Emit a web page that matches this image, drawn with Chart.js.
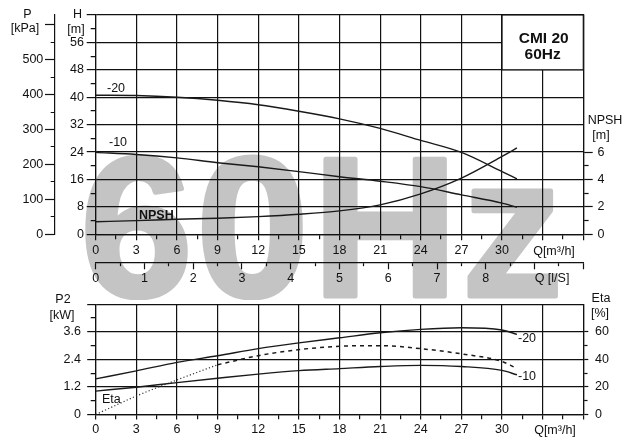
<!DOCTYPE html>
<html><head><meta charset="utf-8">
<script src="https://cdn.jsdelivr.net/npm/chart.js@4"></script>
<style>
html,body{margin:0;padding:0;background:#fff;}
#wrap{position:relative;width:642px;height:446px;overflow:hidden;background:#fff;}
#c1{position:absolute;left:0;top:0;}
#c2{position:absolute;left:0;top:285px;}
</style></head><body>
<div id="wrap"><canvas id="c1" width="642" height="300"></canvas><canvas id="c2" width="642" height="161"></canvas></div>
<script>
// ---- data ----
const qHead   = [0, 3, 6, 9, 12, 15, 18, 21, 24, 27, 30, 31.1];
const head20  = [40.6, 40.5, 40.0, 39.1, 37.8, 35.9, 33.7, 30.9, 27.4, 23.9, 18.3, 16.2];
const head10  = [23.9, 23.3, 22.3, 20.9, 19.7, 18.3, 16.8, 15.5, 13.9, 11.5, 9.1, 7.9];
const npshVal = [0.92, 1.0, 1.1, 1.17, 1.29, 1.46, 1.71, 2.15, 2.95, 4.1, 5.68, 6.3];

const qPower  = [0, 3, 6, 9, 12, 15, 18, 21, 24, 27, 30, 31.1];
const p2_20   = [1.55, 1.90, 2.27, 2.56, 2.87, 3.12, 3.34, 3.56, 3.71, 3.78, 3.68, 3.49];
const p2_10   = [1.02, 1.19, 1.39, 1.58, 1.76, 1.91, 2.00, 2.09, 2.14, 2.09, 1.92, 1.73];
const qEtaLow  = [0, 3, 6, 9];
const etaLow   = [0, 13.4, 25.1, 36.1];
const qEtaHigh = [9, 12, 15, 18, 21, 24, 27, 30, 30.9];
const etaHigh  = [36.1, 42.7, 47.1, 49.5, 50.0, 47.8, 44.0, 38.5, 34.4];

const qLabelMax = 30, lsLabelMax = 8;
const hLabelMax = 56, pLabelMax = 500, npshLabelMax = 6;
const p2LabelMax = 3.6, etaLabelMax = 60;

// ---- helpers ----
const INK = '#111';
const FONT = '"Liberation Sans", Arial, sans-serif';
Chart.defaults.font.family = FONT;
Chart.defaults.font.size = 12.5;
Chart.defaults.color = INK;
const near = (v, s) => Math.abs(v / s - Math.round(v / s)) < 1e-6;
const pts = (xs, ys) => xs.map((x, i) => ({x, y: ys[i]}));
const tv = c => (c.tick ? c.tick.value : 0);

function drawText(ctx, t, x, y, opt) {
  ctx.save();
  ctx.font = (opt && opt.font) || ('12.5px ' + FONT);
  ctx.fillStyle = INK;
  ctx.textAlign = (opt && opt.align) || 'center';
  ctx.textBaseline = 'middle';
  ctx.fillText(t, x, y);
  ctx.restore();
}

const lineDs = (data, yAxisID, extra) => Object.assign({
  data, xAxisID: 'x', yAxisID, borderColor: '#1a1a1a', borderWidth: 1.4,
  pointRadius: 0, cubicInterpolationMode: 'monotone', fill: false
}, extra || {});

// ---- top chart ----
const topPlugin = {
  id: 'topDecor',
  beforeDraw(chart) {
    const ctx = chart.ctx;
    ctx.save();
    ctx.fillStyle = '#c4c4c4';
    ctx.strokeStyle = '#c4c4c4';
    ctx.lineWidth = 5;
    ctx.lineJoin = 'round';
    ctx.font = 'bold 198px ' + FONT;
    ctx.textBaseline = 'alphabetic';
    ctx.textAlign = 'left';
    ctx.letterSpacing = '4px';
    const m = ctx.measureText('60Hz');
    const ink = m.actualBoundingBoxLeft + m.actualBoundingBoxRight;
    const sx = 468 / ink;
    ctx.translate(87.5, 295.5);
    ctx.scale(sx, 1);
    ctx.fillText('60Hz', m.actualBoundingBoxLeft, 0);
    ctx.strokeText('60Hz', m.actualBoundingBoxLeft, 0);
    ctx.restore();
  },
  beforeDatasetsDraw(chart) {
    const ctx = chart.ctx, sx = chart.scales.x, sy = chart.scales.yH;
    const x0 = sx.getPixelForValue(30), x1 = sx.getPixelForValue(36);
    const y0 = sy.getPixelForValue(64), y1 = sy.getPixelForValue(48);
    ctx.save();
    ctx.fillStyle = '#fff';
    ctx.fillRect(x0, y0, x1 - x0, y1 - y0);
    ctx.strokeStyle = INK; ctx.lineWidth = 1.2;
    ctx.strokeRect(x0, y0, x1 - x0, y1 - y0);
    ctx.restore();
    const cx = (x0 + x1) / 2;
    drawText(ctx, 'CMI 20', cx + 1, 38.5, {font: 'bold 15.5px ' + FONT});
    drawText(ctx, '60Hz', cx, 55, {font: 'bold 15.5px ' + FONT});
  },
  afterDraw(chart) {
    const ctx = chart.ctx;
    drawText(ctx, 'P', 27.5, 15);
    drawText(ctx, '[kPa]', 25, 29);
    drawText(ctx, 'H', 77.5, 15);
    drawText(ctx, '[m]', 76, 30);
    drawText(ctx, '-20', 107, 89, {align: 'left'});
    drawText(ctx, '-10', 109, 143, {align: 'left'});
    drawText(ctx, 'NPSH', 139, 216, {align: 'left', font: 'bold 12.5px ' + FONT});
    drawText(ctx, 'NPSH', 605, 120.5);
    drawText(ctx, '[m]', 601, 136);
    drawText(ctx, 'Q[m³/h]', 554, 251.5);
    drawText(ctx, 'Q [l/S]', 552, 279);
  }
};

new Chart(document.getElementById('c1'), {
  type: 'line',
  data: {
    datasets: [
      lineDs(pts(qHead, head20), 'yH'),
      lineDs(pts(qHead, head10), 'yH'),
      lineDs(pts(qHead, npshVal), 'yN')
    ]
  },
  options: {
    responsive: false, animation: false, devicePixelRatio: 1,
    layout: {padding: {top: 15, bottom: 7.7, left: 0, right: 0}},
    plugins: {legend: {display: false}, tooltip: {enabled: false}},
    scales: {
      x: {
        type: 'linear', position: 'bottom', min: 0, max: 36, weight: 0,
        afterFit: s => { s.height = 28; },
        ticks: {stepSize: 1.5, autoSkip: false, maxRotation: 0, includeBounds: false, padding: 3.2,
          callback: v => (near(v, 3) && v <= qLabelMax + 0.01) ? String(Math.round(v)) : ''},
        grid: {color: c => near(tv(c), 3) ? INK : 'rgba(0,0,0,0)', lineWidth: 1.2, tickColor: INK,
          tickLength: 6, tickWidth: 1.2, tickBorderDash: c => near(tv(c), 3) ? [] : [4, 100]},
        border: {display: true, color: INK, width: 1.2}
      },
      x2: {
        type: 'linear', position: 'bottom', min: 0, max: 10, weight: 1,
        afterFit: s => { s.height = 30; },
        ticks: {stepSize: 0.5, autoSkip: false, maxRotation: 0, includeBounds: false, padding: 1.9,
          callback: v => (near(v, 1) && v <= lsLabelMax + 0.01) ? String(Math.round(v)) : ''},
        grid: {drawOnChartArea: false, tickColor: INK, tickLength: 7, tickWidth: 1.2,
          tickBorderDash: c => near(tv(c), 1) ? [] : [3, 100]},
        border: {display: true, color: INK, width: 1.2}
      },
      yP: {
        type: 'linear', position: 'left', min: 0, max: 628, weight: 1,
        afterFit: s => { s.width = 55; },
        ticks: {stepSize: 50, autoSkip: false, includeBounds: false, padding: 1.7,
          callback: v => (near(v, 100) && v <= pLabelMax) ? String(v) : ''},
        grid: {drawOnChartArea: false, tickColor: INK, tickLength: 10, tickWidth: 1.2,
          tickBorderDash: c => near(tv(c), 100) ? [] : [0, 5.7, 4.3, 100]},
        border: {display: true, color: INK, width: 1.2}
      },
      yH: {
        type: 'linear', position: 'left', min: 0, max: 64, weight: 0,
        afterFit: s => { s.width = 40.7; },
        ticks: {stepSize: 4, autoSkip: false, padding: 2.7,
          callback: v => (near(v, 8) && v <= hLabelMax) ? String(v) : ''},
        grid: {color: c => near(tv(c), 8) ? INK : 'rgba(0,0,0,0)', lineWidth: 1.2, tickColor: INK,
          tickLength: 9, tickWidth: 1.2, tickBorderDash: c => near(tv(c), 8) ? [] : [0, 4, 5, 100]},
        border: {display: true, color: INK, width: 1.2}
      },
      yN: {
        type: 'linear', position: 'right', min: 0, max: 16,
        afterFit: s => { s.width = 58.7; },
        ticks: {stepSize: 1, autoSkip: false, padding: 4.7,
          callback: v => (near(v, 2) && v <= npshLabelMax) ? String(v) : ''},
        grid: {drawOnChartArea: false, tickColor: c => tv(c) <= 6.01 ? INK : 'rgba(0,0,0,0)',
          tickLength: 9.4, tickWidth: 1.2, tickBorderDash: c => near(tv(c), 2) ? [] : [4.4, 100]},
        border: {display: true, color: INK, width: 1.2}
      }
    }
  },
  plugins: [topPlugin]
});

// ---- bottom chart ----
const botPlugin = {
  id: 'botDecor',
  afterDraw(chart) {
    const ctx = chart.ctx;
    drawText(ctx, 'P2', 63, 15);
    drawText(ctx, '[kW]', 62, 31);
    drawText(ctx, 'Eta', 601, 13.5);
    drawText(ctx, '[%]', 600, 28.5);
    drawText(ctx, '-20', 518, 54, {align: 'left'});
    drawText(ctx, '-10', 518, 92, {align: 'left'});
    drawText(ctx, 'Eta', 102, 115, {align: 'left'});
    drawText(ctx, 'Q[m³/h]', 555, 145.5);
  }
};

new Chart(document.getElementById('c2'), {
  type: 'line',
  data: {
    datasets: [
      lineDs(pts(qPower, p2_20), 'yP2'),
      lineDs(pts(qPower, p2_10), 'yP2'),
      lineDs(pts(qEtaLow, etaLow), 'yEta', {borderWidth: 1.2, borderColor: '#333', borderDash: [1.2, 2.2]}),
      lineDs(pts(qEtaHigh, etaHigh), 'yEta', {borderWidth: 1.5, borderDash: [4, 4]})
    ]
  },
  options: {
    responsive: false, animation: false, devicePixelRatio: 1,
    layout: {padding: {top: 19.3, bottom: 3.5, left: 0, right: 0}},
    plugins: {legend: {display: false}, tooltip: {enabled: false}},
    scales: {
      x: {
        type: 'linear', position: 'bottom', min: 0, max: 36,
        afterFit: s => { s.height = 28; },
        ticks: {stepSize: 1.5, autoSkip: false, maxRotation: 0, includeBounds: false, padding: 3.0,
          callback: v => (near(v, 3) && v <= qLabelMax + 0.01) ? String(Math.round(v)) : ''},
        grid: {color: c => near(tv(c), 3) ? INK : 'rgba(0,0,0,0)', lineWidth: 1.2, tickColor: INK,
          tickLength: 5, tickWidth: 1.2, tickBorderDash: c => near(tv(c), 3) ? [] : [4, 100]},
        border: {display: true, color: INK, width: 1.2}
      },
      yP2: {
        type: 'linear', position: 'left', min: 0, max: 4.8,
        afterFit: s => { s.width = 95.7; },
        ticks: {stepSize: 0.6, autoSkip: false, includeBounds: false, padding: 6.2,
          callback: v => (near(v, 1.2) && v <= p2LabelMax + 0.01) ? (v < 0.01 ? '0' : v.toFixed(1)) : ''},
        grid: {color: c => near(tv(c), 1.2) ? INK : 'rgba(0,0,0,0)', lineWidth: 1.2, tickColor: INK,
          tickLength: 8.5, tickWidth: 1.2, tickBorderDash: c => near(tv(c), 1.2) ? [] : [0, 3.5, 5, 100]},
        border: {display: true, color: INK, width: 1.2}
      },
      yEta: {
        type: 'linear', position: 'right', min: 0, max: 80,
        afterFit: s => { s.width = 58.7; },
        ticks: {stepSize: 10, autoSkip: false, padding: 6.7,
          callback: v => (near(v, 20) && v <= etaLabelMax) ? String(v) : ''},
        grid: {drawOnChartArea: false, tickColor: c => tv(c) <= 60.01 ? INK : 'rgba(0,0,0,0)',
          tickLength: 5, tickWidth: 1.2, tickBorderDash: c => near(tv(c), 20) ? [] : [3.3, 100]},
        border: {display: true, color: INK, width: 1.2}
      }
    }
  },
  plugins: [botPlugin]
});
</script></body></html>
